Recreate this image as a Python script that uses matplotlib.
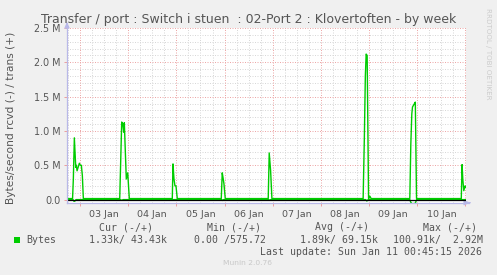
import matplotlib
matplotlib.use("Agg")
import matplotlib.pyplot as plt
from matplotlib.patches import Rectangle
import numpy as np

# ---- data (hours relative to 03 Jan 00:00, values in MBytes/s) ----
trans_hours = [-6.5, -3.73, -3.34, -2.84, -2.14, -1.84, -1.49, -0.85, -0.35, 0.15, 0.65, 1.15, 1.64,
               19.77, 20.76, 21.26, 21.76, 22.06, 22.56, 23.05, 23.75, 24.55,
               45.96, 46.31, 46.80, 47.30, 47.80, 48.45,
               70.36, 70.85, 71.35, 71.70, 72.35,
               93.76, 94.25, 94.95, 95.60,
               141.05, 141.65, 142.15, 142.55, 143.05, 143.75, 144.4, 145.04,
               164.3, 164.8, 165.3, 165.65, 166.65, 167.05, 167.65,
               189.95, 190.35, 190.7, 191.2, 191.85, 192.2]
trans_values = [0.015, 0.015, 0.30, 0.90, 0.47, 0.50, 0.42, 0.48, 0.53, 0.50, 0.50, 0.35, 0.015,
                0.015, 1.13, 1.11, 0.98, 1.12, 0.70, 0.30, 0.39, 0.015,
                0.015, 0.52, 0.30, 0.20, 0.20, 0.015,
                0.015, 0.39, 0.30, 0.23, 0.015,
                0.015, 0.68, 0.42, 0.015,
                0.015, 0.90, 1.80, 2.12, 2.10, 0.015, 0.05, 0.015,
                0.015, 0.80, 1.25, 1.35, 1.40, 1.42, 0.015,
                0.015, 0.51, 0.30, 0.13, 0.20, 0.18]

rcvd_hours = [-6.5, -3.5, -3.0, -2.5, -2.0, 20.0, 20.8, 21.5, 70.6, 71.0, 71.5,
              94.0, 94.5, 95.0, 142.3, 142.9, 143.6, 164.3, 164.8, 165.5, 167.0, 167.7, 192.2]
rcvd_values = [0.0, 0.0, -0.025, -0.02, 0.0, 0.0, -0.01, 0.0, 0.0, -0.012, 0.0,
               0.0, -0.01, 0.0, 0.0, -0.02, 0.0, 0.0, -0.04, -0.06, -0.055, 0.0, 0.0]

day_labels = ["03 Jan", "04 Jan", "05 Jan", "06 Jan", "07 Jan", "08 Jan", "09 Jan", "10 Jan"]
y_ticks = [0.0, 0.5, 1.0, 1.5, 2.0, 2.5]
y_tick_labels = ["0.0", "0.5 M", "1.0 M", "1.5 M", "2.0 M", "2.5 M"]

legend_cols = ["Cur (-/+)", "Min (-/+)", "Avg (-/+)", "Max (-/+)"]
legend_vals = ["1.33k/ 43.43k", "0.00 /575.72", "1.89k/ 69.15k", "100.91k/  2.92M"]

W, H = 497, 275
BG = "#F0F0F0"
TXT = "#555555"
GREEN = "#00CC00"

fig = plt.figure(figsize=(W / 100, H / 100), dpi=100, facecolor=BG)
L, R, T, B = 67, 466, 28, 202.7
ax = fig.add_axes([L / W, 1 - B / H, (R - L) / W, (B - T) / H])
ax.set_facecolor("white")

x0, x1 = -6.5, 192.3
y0, y1 = -0.045, 2.5
ax.set_xlim(x0, x1)
ax.set_ylim(y0, y1)

# grid
dot = (0, (1, 1.5))
for h in np.arange(-6, 193, 6):
    if h % 24 != 0:
        ax.axvline(h, color="#D8D8D8", lw=0.72, ls=dot, zorder=1)
for v in np.arange(0.1, 2.5, 0.1):
    if abs(v * 2 - round(v * 2)) > 1e-6:
        ax.axhline(v, color="#D8D8D8", lw=0.72, ls=dot, zorder=1)
for h in range(0, 193, 24):
    ax.axvline(h, color="#EDA8A8", lw=0.72, ls=dot, zorder=1.1)
for v in y_ticks[1:]:
    ax.axhline(v, color="#EDA8A8", lw=0.72, ls=dot, zorder=1.1)

# data
ax.plot(rcvd_hours, rcvd_values, color=GREEN, lw=1.0, zorder=3)
ax.axhline(0, color="black", lw=0.9, zorder=3.5)
ax.plot(trans_hours, trans_values, color=GREEN, lw=1.0, zorder=4)

# axes
for s in ax.spines.values():
    s.set_visible(False)
AX = "#B8B8E8"
ax.plot([x0, x0], [y0, y1 + 0.03], color=AX, lw=0.9, clip_on=False, zorder=5)
ax.plot([x0, x1 + 1.5], [y0, y0], color=AX, lw=0.9, clip_on=False, zorder=5)
ax.annotate("", xy=(x1 + 3.5, y0), xytext=(x1 + 0.5, y0),
            arrowprops=dict(arrowstyle="-|>,head_length=0.35,head_width=0.15", color=AX, lw=0.8),
            annotation_clip=False)
ax.annotate("", xy=(x0, y1 + 0.09), xytext=(x0, y1 + 0.01),
            arrowprops=dict(arrowstyle="-|>,head_length=0.35,head_width=0.15", color=AX, lw=0.8),
            annotation_clip=False)

ax.set_xticks([12 + 24 * i for i in range(len(day_labels))])
ax.set_xticklabels(day_labels)
ax.set_xticks(list(range(0, 193, 24)), minor=True)
ax.tick_params(axis="x", which="major", length=0, pad=5.2, labelsize=6.8, labelcolor=TXT)
ax.tick_params(axis="x", which="minor", length=2.5, color="#EBA0A0", width=0.72)
ax.set_yticks(y_ticks)
ax.set_yticklabels(y_tick_labels)
ax.tick_params(axis="y", which="major", length=2, color="#EBA0A0", width=0.72, pad=2.5,
               labelsize=6.9, labelcolor=TXT)

# texts
def px(x, y):
    return x / W, 1 - y / H

fig.text(*px(248.5, 19), "Transfer / port : Switch i stuen  : 02-Port 2 : Klovertoften - by week",
         ha="center", va="center", fontsize=9.0, color=TXT)
fig.text(*px(11.5, 117.5), "Bytes/second rcvd (-) / trans (+)", rotation=90,
         ha="center", va="center", fontsize=7.7, color=TXT)
fig.text(*px(488, 53.5), "RRDTOOL / TOBI OETIKER", rotation=-90,
         ha="center", va="center", fontsize=5.1, color="#CCCCCC")

mono = dict(family="DejaVu Sans Mono", fontsize=7.1, color=TXT, va="center")
col_x = [98.7, 206.7, 315, 422.7]
val_x = [89.3, 194.3, 300, 393.3]
for cx, t in zip(col_x, legend_cols):
    fig.text(*px(cx, 227.3), t, ha="left", **mono)
fig.add_artist(Rectangle(px(14, 242.7), 6 / W, 5.5 / H, transform=fig.transFigure,
                         color=GREEN, lw=0))
fig.text(*px(26.7, 240), "Bytes", ha="left", **mono)
for vx, t in zip(val_x, legend_vals):
    fig.text(*px(vx, 240), t, ha="left", **mono)
fig.text(*px(482.3, 251.7), "Last update: Sun Jan 11 00:45:15 2026", ha="right", **mono)
fig.text(*px(223.3, 263.3), "Munin 2.0.76", ha="left", va="center", fontsize=5.4, color="#C8C8C8")

fig.savefig("out.png", dpi=100, facecolor=BG)
